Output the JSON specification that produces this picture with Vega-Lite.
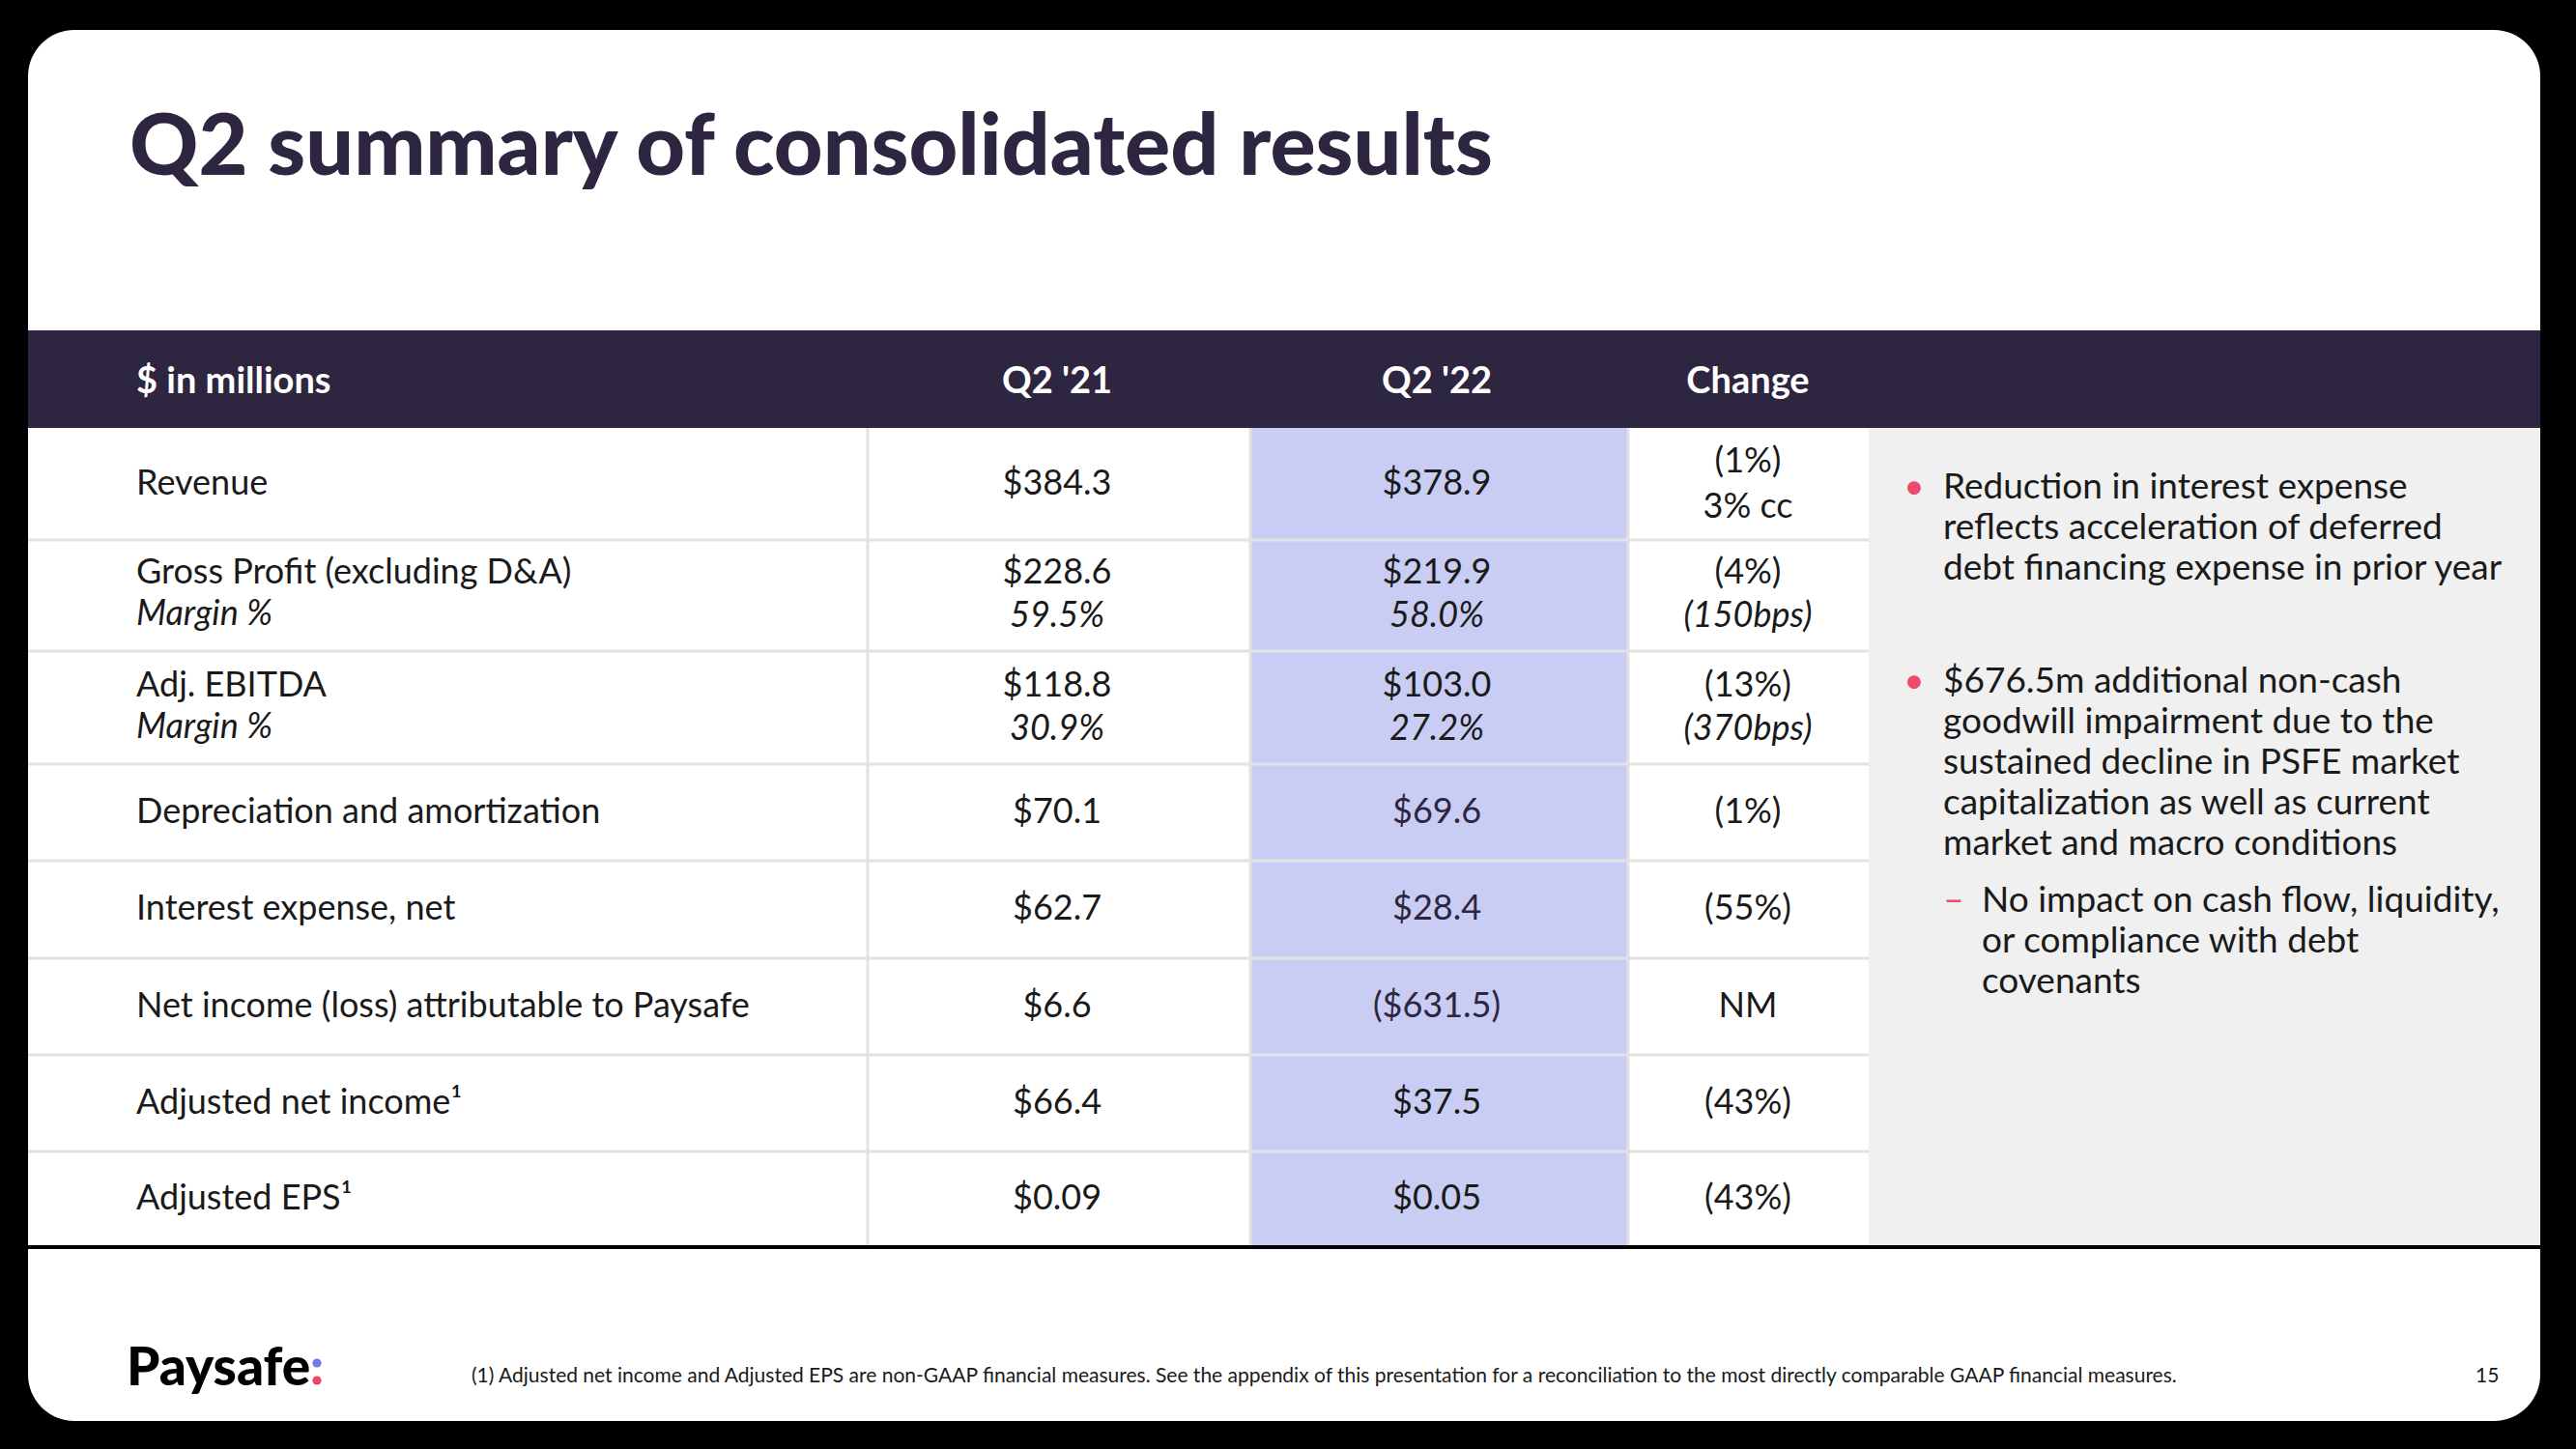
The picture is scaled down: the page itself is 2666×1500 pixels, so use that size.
{
  "$schema": "https://vega.github.io/schema/vega-lite/v6.json",
  "width": 2600,
  "height": 1440,
  "autosize": {"type": "none"},
  "padding": {"left": 29, "top": 31, "right": 37, "bottom": 29},
  "background": "#000000",
  "title": {
    "text": "Q2 summary of consolidated results",
    "anchor": "start",
    "frame": "group",
    "orient": "top",
    "offset": 0,
    "baseline": "alphabetic",
    "dx": 105,
    "dy": 238,
    "font": "Lato",
    "fontWeight": 900,
    "fontSize": 88,
    "color": "#2e2540"
  },
  "datasets": {
    "blocks": [
      {"block": "header", "c0": 0, "c1": 5, "r0": 0, "r1": 1},
      {"block": "highlight", "c0": 2, "c1": 3, "r0": 1, "r1": 9},
      {"block": "commentary", "c0": 4, "c1": 5, "r0": 1, "r1": 9}
    ],
    "gridlines": [
      {"kind": "separator", "c0": 0, "c1": 4, "r0": 2, "r1": 2},
      {"kind": "separator", "c0": 0, "c1": 4, "r0": 3, "r1": 3},
      {"kind": "separator", "c0": 0, "c1": 4, "r0": 4, "r1": 4},
      {"kind": "separator", "c0": 0, "c1": 4, "r0": 5, "r1": 5},
      {"kind": "separator", "c0": 0, "c1": 4, "r0": 6, "r1": 6},
      {"kind": "separator", "c0": 0, "c1": 4, "r0": 7, "r1": 7},
      {"kind": "separator", "c0": 0, "c1": 4, "r0": 8, "r1": 8},
      {"kind": "separator", "c0": 1, "c1": 1, "r0": 1, "r1": 9},
      {"kind": "separator", "c0": 2, "c1": 2, "r0": 1, "r1": 9},
      {"kind": "separator", "c0": 3, "c1": 3, "r0": 1, "r1": 9},
      {"kind": "bottom", "c0": 0, "c1": 5, "r0": 9, "r1": 9}
    ],
    "cells": [
      {"row": 0, "col": 0, "line": 0, "kind": "header", "text": "$ in millions"},
      {"row": 0, "col": 1, "line": 0, "kind": "header", "text": "Q2 '21"},
      {"row": 0, "col": 2, "line": 0, "kind": "header", "text": "Q2 '22"},
      {"row": 0, "col": 3, "line": 0, "kind": "header", "text": "Change"},
      {"row": 1, "col": 0, "line": 0, "kind": "metric", "text": "Revenue"},
      {"row": 1, "col": 1, "line": 0, "kind": "value", "text": "$384.3"},
      {"row": 1, "col": 2, "line": 0, "kind": "value", "text": "$378.9"},
      {"row": 1, "col": 3, "line": 1, "kind": "value", "text": "(1%)"},
      {"row": 1, "col": 3, "line": 2, "kind": "cc", "text": "3% cc"},
      {"row": 2, "col": 0, "line": 1, "kind": "metric", "text": "Gross Profit (excluding D&A)"},
      {"row": 2, "col": 0, "line": 2, "kind": "margin", "text": "Margin %"},
      {"row": 2, "col": 1, "line": 1, "kind": "value", "text": "$228.6"},
      {"row": 2, "col": 1, "line": 2, "kind": "margin", "text": "59.5%"},
      {"row": 2, "col": 2, "line": 1, "kind": "value", "text": "$219.9"},
      {"row": 2, "col": 2, "line": 2, "kind": "margin", "text": "58.0%"},
      {"row": 2, "col": 3, "line": 1, "kind": "value", "text": "(4%)"},
      {"row": 2, "col": 3, "line": 2, "kind": "margin", "text": "(150bps)"},
      {"row": 3, "col": 0, "line": 1, "kind": "metric", "text": "Adj. EBITDA"},
      {"row": 3, "col": 0, "line": 2, "kind": "margin", "text": "Margin %"},
      {"row": 3, "col": 1, "line": 1, "kind": "value", "text": "$118.8"},
      {"row": 3, "col": 1, "line": 2, "kind": "margin", "text": "30.9%"},
      {"row": 3, "col": 2, "line": 1, "kind": "value", "text": "$103.0"},
      {"row": 3, "col": 2, "line": 2, "kind": "margin", "text": "27.2%"},
      {"row": 3, "col": 3, "line": 1, "kind": "value", "text": "(13%)"},
      {"row": 3, "col": 3, "line": 2, "kind": "margin", "text": "(370bps)"},
      {"row": 4, "col": 0, "line": 0, "kind": "metric", "text": "Depreciation and amortization"},
      {"row": 4, "col": 1, "line": 0, "kind": "value", "text": "$70.1"},
      {"row": 4, "col": 2, "line": 0, "kind": "value", "text": "$69.6"},
      {"row": 4, "col": 3, "line": 0, "kind": "value", "text": "(1%)"},
      {"row": 5, "col": 0, "line": 0, "kind": "metric", "text": "Interest expense, net"},
      {"row": 5, "col": 1, "line": 0, "kind": "value", "text": "$62.7"},
      {"row": 5, "col": 2, "line": 0, "kind": "value", "text": "$28.4"},
      {"row": 5, "col": 3, "line": 0, "kind": "value", "text": "(55%)"},
      {"row": 6, "col": 0, "line": 0, "kind": "metric", "text": "Net income (loss) attributable to Paysafe"},
      {"row": 6, "col": 1, "line": 0, "kind": "value", "text": "$6.6"},
      {"row": 6, "col": 2, "line": 0, "kind": "value", "text": "($631.5)"},
      {"row": 6, "col": 3, "line": 0, "kind": "value", "text": "NM"},
      {"row": 7, "col": 0, "line": 0, "kind": "metric", "text": "Adjusted net income¹"},
      {"row": 7, "col": 1, "line": 0, "kind": "value", "text": "$66.4"},
      {"row": 7, "col": 2, "line": 0, "kind": "value", "text": "$37.5"},
      {"row": 7, "col": 3, "line": 0, "kind": "value", "text": "(43%)"},
      {"row": 8, "col": 0, "line": 0, "kind": "metric", "text": "Adjusted EPS¹"},
      {"row": 8, "col": 1, "line": 0, "kind": "value", "text": "$0.09"},
      {"row": 8, "col": 2, "line": 0, "kind": "value", "text": "$0.05"},
      {"row": 8, "col": 3, "line": 0, "kind": "value", "text": "(43%)"}
    ],
    "notes": [
      {"para": 1, "level": 1, "text": "Reduction in interest expense\nreflects acceleration of deferred\ndebt financing expense in prior year"},
      {"para": 2, "level": 1, "text": "$676.5m additional non-cash\ngoodwill impairment due to the\nsustained decline in PSFE market\ncapitalization as well as current\nmarket and macro conditions"},
      {"para": 3, "level": 2, "text": "No impact on cash flow, liquidity,\nor compliance with debt\ncovenants"}
    ],
    "footer": [
      {"item": "footnote", "text": "(1) Adjusted net income and Adjusted EPS are non-GAAP financial measures.  See the appendix of this presentation for a reconciliation to the most directly comparable GAAP financial measures."},
      {"item": "page", "text": "15"}
    ],
    "logo": [{"item": "wordmark", "text": "Paysafe"}],
    "logodots": [{"dot": "top"}, {"dot": "bottom"}]
  },
  "resolve": {"scale": {"x": "independent", "y": "independent", "color": "independent"}},
  "layer": [
    {
      "data": {"name": "blocks"},
      "mark": {"type": "rect"},
      "encoding": {
        "x": {"field": "c0", "type": "quantitative", "axis": null, "scale": {"domain": [0, 1, 2, 3, 4, 5], "range": [0, 869, 1265, 1656, 1905, 2600], "nice": false, "zero": false}},
        "x2": {"field": "c1"},
        "y": {"field": "r0", "type": "quantitative", "axis": null, "scale": {"domain": [0, 1, 2, 3, 4, 5, 6, 7, 8, 9], "range": [311, 412, 528, 643, 760, 860, 961, 1061, 1161, 1260], "nice": false, "zero": false}},
        "y2": {"field": "r1"},
        "color": {"field": "block", "type": "nominal", "legend": null, "scale": {"domain": ["header", "highlight", "commentary"], "range": ["#2e2540", "#c9cdf3", "#f0f0f0"]}}
      }
    },
    {
      "data": {"name": "gridlines"},
      "transform": [{"filter": "datum.kind == 'separator'"}],
      "mark": {"type": "rule", "color": "#e2e2e2", "strokeWidth": 3},
      "encoding": {
        "x": {"field": "c0", "type": "quantitative", "axis": null, "scale": {"domain": [0, 1, 2, 3, 4, 5], "range": [0, 869, 1265, 1656, 1905, 2600], "nice": false, "zero": false}},
        "x2": {"field": "c1"},
        "y": {"field": "r0", "type": "quantitative", "axis": null, "scale": {"domain": [0, 1, 2, 3, 4, 5, 6, 7, 8, 9], "range": [311, 412, 528, 643, 760, 860, 961, 1061, 1161, 1260], "nice": false, "zero": false}},
        "y2": {"field": "r1"}
      }
    },
    {
      "data": {"name": "gridlines"},
      "transform": [{"filter": "datum.kind == 'bottom'"}],
      "mark": {"type": "rule", "color": "#000000", "strokeWidth": 4},
      "encoding": {
        "x": {"field": "c0", "type": "quantitative", "axis": null, "scale": {"domain": [0, 1, 2, 3, 4, 5], "range": [0, 869, 1265, 1656, 1905, 2600], "nice": false, "zero": false}},
        "x2": {"field": "c1"},
        "y": {"field": "r0", "type": "quantitative", "axis": null, "scale": {"domain": [0, 1, 2, 3, 4, 5, 6, 7, 8, 9], "range": [311, 412, 528, 643, 760, 860, 961, 1061, 1161, 1260], "nice": false, "zero": false}},
        "y2": {"field": "r1"}
      }
    },
    {
      "data": {"name": "cells"},
      "transform": [{"filter": "datum.row == 0 && datum.col == 0"}],
      "mark": {"type": "text", "align": "left", "baseline": "middle", "font": "Lato", "fontWeight": "bold", "fontSize": 38, "color": "#ffffff"},
      "encoding": {
        "x": {"field": "col", "type": "quantitative", "axis": null, "scale": {"domain": [0, 1, 2, 3], "range": [112, 1065, 1458, 1780], "nice": false, "zero": false}},
        "y": {"field": "row", "type": "quantitative", "axis": null, "scale": {"domain": [0, 1, 2, 3, 4, 5, 6, 7, 8], "range": [365, 470, 585, 702, 810, 910, 1011, 1111, 1210], "nice": false, "zero": false}},
        "text": {"field": "text"}
      }
    },
    {
      "data": {"name": "cells"},
      "transform": [{"filter": "datum.row == 0 && datum.col > 0"}],
      "mark": {"type": "text", "align": "center", "baseline": "middle", "font": "Lato", "fontWeight": "bold", "fontSize": 38, "color": "#ffffff"},
      "encoding": {
        "x": {"field": "col", "type": "quantitative", "axis": null, "scale": {"domain": [0, 1, 2, 3], "range": [112, 1065, 1458, 1780], "nice": false, "zero": false}},
        "y": {"field": "row", "type": "quantitative", "axis": null, "scale": {"domain": [0, 1, 2, 3, 4, 5, 6, 7, 8], "range": [365, 470, 585, 702, 810, 910, 1011, 1111, 1210], "nice": false, "zero": false}},
        "text": {"field": "text"}
      }
    },
    {
      "data": {"name": "cells"},
      "transform": [{"filter": "datum.row > 0 && datum.col == 0 && datum.line == 0"}],
      "mark": {"type": "text", "align": "left", "baseline": "middle", "font": "Lato", "fontSize": 36, "color": "#1a1a1a"},
      "encoding": {
        "x": {"field": "col", "type": "quantitative", "axis": null, "scale": {"domain": [0, 1, 2, 3], "range": [112, 1065, 1458, 1780], "nice": false, "zero": false}},
        "y": {"field": "row", "type": "quantitative", "axis": null, "scale": {"domain": [0, 1, 2, 3, 4, 5, 6, 7, 8], "range": [365, 470, 585, 702, 810, 910, 1011, 1111, 1210], "nice": false, "zero": false}},
        "text": {"field": "text"}
      }
    },
    {
      "data": {"name": "cells"},
      "transform": [{"filter": "datum.row > 0 && datum.col == 0 && datum.line == 1"}],
      "mark": {"type": "text", "align": "left", "baseline": "middle", "dy": -23, "font": "Lato", "fontSize": 36, "color": "#1a1a1a"},
      "encoding": {
        "x": {"field": "col", "type": "quantitative", "axis": null, "scale": {"domain": [0, 1, 2, 3], "range": [112, 1065, 1458, 1780], "nice": false, "zero": false}},
        "y": {"field": "row", "type": "quantitative", "axis": null, "scale": {"domain": [0, 1, 2, 3, 4, 5, 6, 7, 8], "range": [365, 470, 585, 702, 810, 910, 1011, 1111, 1210], "nice": false, "zero": false}},
        "text": {"field": "text"}
      }
    },
    {
      "data": {"name": "cells"},
      "transform": [{"filter": "datum.row > 0 && datum.col == 0 && datum.line == 2"}],
      "mark": {"type": "text", "align": "left", "baseline": "middle", "dy": 20, "font": "Lato", "fontStyle": "italic", "fontSize": 36, "color": "#1a1a1a"},
      "encoding": {
        "x": {"field": "col", "type": "quantitative", "axis": null, "scale": {"domain": [0, 1, 2, 3], "range": [112, 1065, 1458, 1780], "nice": false, "zero": false}},
        "y": {"field": "row", "type": "quantitative", "axis": null, "scale": {"domain": [0, 1, 2, 3, 4, 5, 6, 7, 8], "range": [365, 470, 585, 702, 810, 910, 1011, 1111, 1210], "nice": false, "zero": false}},
        "text": {"field": "text"}
      }
    },
    {
      "data": {"name": "cells"},
      "transform": [{"filter": "datum.row > 0 && datum.col > 0 && datum.line == 0"}],
      "mark": {"type": "text", "align": "center", "baseline": "middle", "font": "Lato", "fontSize": 36},
      "encoding": {
        "x": {"field": "col", "type": "quantitative", "axis": null, "scale": {"domain": [0, 1, 2, 3], "range": [112, 1065, 1458, 1780], "nice": false, "zero": false}},
        "y": {"field": "row", "type": "quantitative", "axis": null, "scale": {"domain": [0, 1, 2, 3, 4, 5, 6, 7, 8], "range": [365, 470, 585, 702, 810, 910, 1011, 1111, 1210], "nice": false, "zero": false}},
        "text": {"field": "text"},
        "color": {"condition": {"test": "datum.col == 2 && datum.row >= 4 && datum.row <= 6", "value": "#2e2540"}, "value": "#1a1a1a"}
      }
    },
    {
      "data": {"name": "cells"},
      "transform": [{"filter": "datum.row > 0 && datum.col > 0 && datum.line == 1"}],
      "mark": {"type": "text", "align": "center", "baseline": "middle", "dy": -23, "font": "Lato", "fontSize": 36, "color": "#1a1a1a"},
      "encoding": {
        "x": {"field": "col", "type": "quantitative", "axis": null, "scale": {"domain": [0, 1, 2, 3], "range": [112, 1065, 1458, 1780], "nice": false, "zero": false}},
        "y": {"field": "row", "type": "quantitative", "axis": null, "scale": {"domain": [0, 1, 2, 3, 4, 5, 6, 7, 8], "range": [365, 470, 585, 702, 810, 910, 1011, 1111, 1210], "nice": false, "zero": false}},
        "text": {"field": "text"}
      }
    },
    {
      "data": {"name": "cells"},
      "transform": [{"filter": "datum.row > 0 && datum.col > 0 && datum.line == 2 && datum.kind == 'margin'"}],
      "mark": {"type": "text", "align": "center", "baseline": "middle", "dy": 22, "font": "Lato", "fontStyle": "italic", "fontSize": 36, "color": "#1a1a1a"},
      "encoding": {
        "x": {"field": "col", "type": "quantitative", "axis": null, "scale": {"domain": [0, 1, 2, 3], "range": [112, 1065, 1458, 1780], "nice": false, "zero": false}},
        "y": {"field": "row", "type": "quantitative", "axis": null, "scale": {"domain": [0, 1, 2, 3, 4, 5, 6, 7, 8], "range": [365, 470, 585, 702, 810, 910, 1011, 1111, 1210], "nice": false, "zero": false}},
        "text": {"field": "text"}
      }
    },
    {
      "data": {"name": "cells"},
      "transform": [{"filter": "datum.row > 0 && datum.col > 0 && datum.line == 2 && datum.kind != 'margin'"}],
      "mark": {"type": "text", "align": "center", "baseline": "middle", "dy": 24, "font": "Lato", "fontSize": 36, "color": "#1a1a1a"},
      "encoding": {
        "x": {"field": "col", "type": "quantitative", "axis": null, "scale": {"domain": [0, 1, 2, 3], "range": [112, 1065, 1458, 1780], "nice": false, "zero": false}},
        "y": {"field": "row", "type": "quantitative", "axis": null, "scale": {"domain": [0, 1, 2, 3, 4, 5, 6, 7, 8], "range": [365, 470, 585, 702, 810, 910, 1011, 1111, 1210], "nice": false, "zero": false}},
        "text": {"field": "text"}
      }
    },
    {
      "data": {"name": "notes"},
      "mark": {"type": "text", "align": "left", "baseline": "alphabetic", "lineBreak": "\n", "lineHeight": 42, "font": "Lato", "fontSize": 37, "color": "#1a1a1a"},
      "encoding": {
        "x": {"field": "level", "type": "quantitative", "axis": null, "scale": {"domain": [1, 2], "range": [1982, 2022], "nice": false, "zero": false}},
        "y": {"field": "para", "type": "quantitative", "axis": null, "scale": {"domain": [1, 2, 3], "range": [485, 686, 913], "nice": false, "zero": false}},
        "text": {"field": "text"}
      }
    },
    {
      "data": {"name": "notes"},
      "transform": [{"filter": "datum.level == 1"}],
      "mark": {"type": "text", "align": "center", "baseline": "alphabetic", "dx": -30, "font": "Lato", "fontSize": 37, "color": "#ee4a6c"},
      "encoding": {
        "x": {"field": "level", "type": "quantitative", "axis": null, "scale": {"domain": [1, 2], "range": [1982, 2022], "nice": false, "zero": false}},
        "y": {"field": "para", "type": "quantitative", "axis": null, "scale": {"domain": [1, 2, 3], "range": [485, 686, 913], "nice": false, "zero": false}},
        "text": {"value": "•"}
      }
    },
    {
      "data": {"name": "notes"},
      "transform": [{"filter": "datum.level == 2"}],
      "mark": {"type": "text", "align": "center", "baseline": "alphabetic", "dx": -29, "font": "Lato", "fontSize": 37, "color": "#ee4a6c"},
      "encoding": {
        "x": {"field": "level", "type": "quantitative", "axis": null, "scale": {"domain": [1, 2], "range": [1982, 2022], "nice": false, "zero": false}},
        "y": {"field": "para", "type": "quantitative", "axis": null, "scale": {"domain": [1, 2, 3], "range": [485, 686, 913], "nice": false, "zero": false}},
        "text": {"value": "–"}
      }
    },
    {
      "data": {"name": "footer"},
      "mark": {"type": "text", "align": "left", "baseline": "middle", "font": "Lato", "fontSize": 21, "color": "#1a1a1a"},
      "encoding": {
        "x": {"field": "item", "type": "nominal", "axis": null, "scale": {"type": "point", "domain": ["footnote", "page"], "range": [459, 2533], "padding": 0}},
        "y": {"field": "item", "type": "nominal", "axis": null, "scale": {"type": "point", "domain": ["footnote", "page"], "range": [1394, 1394], "padding": 0}},
        "text": {"field": "text"}
      }
    },
    {
      "data": {"name": "logo"},
      "mark": {"type": "text", "align": "left", "baseline": "alphabetic", "font": "Lato", "fontWeight": 900, "fontSize": 55, "color": "#000000"},
      "encoding": {
        "x": {"field": "item", "type": "nominal", "axis": null, "scale": {"type": "point", "domain": ["wordmark"], "range": [102, 102], "padding": 0}},
        "y": {"field": "item", "type": "nominal", "axis": null, "scale": {"type": "point", "domain": ["wordmark"], "range": [1403, 1403], "padding": 0}},
        "text": {"field": "text"}
      }
    },
    {
      "data": {"name": "logodots"},
      "mark": {"type": "circle", "opacity": 1, "size": 85},
      "encoding": {
        "x": {"field": "dot", "type": "nominal", "axis": null, "scale": {"type": "point", "domain": ["top", "bottom"], "range": [299, 299], "padding": 0}},
        "y": {"field": "dot", "type": "nominal", "axis": null, "scale": {"type": "point", "domain": ["top", "bottom"], "range": [1380, 1398], "padding": 0}},
        "color": {"field": "dot", "type": "nominal", "legend": null, "scale": {"domain": ["top", "bottom"], "range": ["#6f7fe3", "#f0466b"]}}
      }
    }
  ],
  "config": {
    "view": {"fill": "#ffffff", "stroke": null, "cornerRadius": 48}
  }
}
